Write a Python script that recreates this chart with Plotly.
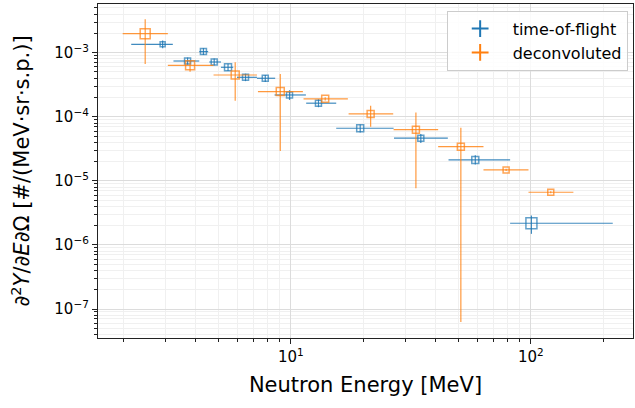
import plotly.graph_objects as go

# time-of-flight
tof_E = [2.92, 3.71, 4.32, 4.79, 5.47, 6.47, 7.82, 9.87, 13.03, 19.45, 34.8, 58.7, 100.6]
tof_Elo = [2.16, 3.24, 4.15, 4.57, 5.11, 5.96, 7.22, 8.55, 11.58, 15.45, 26.9, 45.4, 82.0]
tof_Ehi = [3.22, 4.15, 4.52, 5.11, 5.75, 7.22, 8.60, 11.55, 15.45, 26.8, 45.1, 82.0, 219.6]
tof_Y = [1.35e-3, 7.42e-4, 1.04e-3, 7.16e-4, 5.92e-4, 4.13e-4, 3.99e-4, 2.19e-4, 1.63e-4, 6.62e-5, 4.63e-5, 2.12e-5, 2.18e-6]
tof_Ylo = [1.17e-3, 6.5e-4, 9.2e-4, 6.3e-4, 5.2e-4, 3.6e-4, 3.5e-4, 1.83e-4, 1.41e-4, 5.7e-5, 3.9e-5, 1.8e-5, 1.49e-6]
tof_Yhi = [1.55e-3, 8.4e-4, 1.18e-3, 8.1e-4, 6.7e-4, 4.7e-4, 4.5e-4, 2.6e-4, 1.88e-4, 7.6e-5, 5.4e-5, 2.5e-5, 2.88e-6]
tof_size = [5, 6, 6, 6, 7, 6, 6, 6, 6, 7, 6, 7, 11]

# deconvoluted
dec_E = [2.47, 3.80, 5.86, 9.03, 13.9, 21.5, 33.2, 51.1, 78.9, 121.1]
dec_Elo = [1.99, 3.07, 4.76, 7.29, 11.29, 17.4, 26.8, 41.1, 63.5, 97.8]
dec_Ehi = [3.07, 4.76, 7.22, 11.22, 17.28, 26.7, 41.1, 63.5, 97.8, 150.5]
dec_Y = [1.98e-3, 6.36e-4, 4.49e-4, 2.47e-4, 1.91e-4, 1.11e-4, 6.29e-5, 3.42e-5, 1.48e-5, 6.64e-6]
dec_Ylo = [6.67e-4, 5.06e-4, 1.78e-4, 2.93e-5, 1.80e-4, 7.02e-5, 7.67e-6, 6.3e-8, 1.42e-5, 6.4e-6]
dec_Yhi = [3.32e-3, 7.42e-4, 7.08e-4, 4.66e-4, 2.02e-4, 1.49e-4, 1.17e-4, 6.76e-5, 1.54e-5, 6.9e-6]
dec_size = [10, 9, 8, 8, 7, 7, 7, 7, 6, 6]

BLUE = "#1f77b4"
ORANGE = "#ff7f0e"


def err(v, lo, hi):
    return [h - x for x, h in zip(v, hi)], [x - l for x, l in zip(v, lo)]


fig = go.Figure()


def add_series(E, Elo, Ehi, Y, Ylo, Yhi, size, color, rgba, name):
    ex_p, ex_m = err(E, Elo, Ehi)
    ey_p, ey_m = err(Y, Ylo, Yhi)
    fig.add_trace(go.Scatter(
        x=E, y=Y, mode="markers", showlegend=False,
        marker=dict(symbol="square-open", size=size, color=color,
                    line=dict(width=1.5, color=rgba)),
        error_x=dict(type="data", symmetric=False, array=ex_p, arrayminus=ex_m,
                     width=0, thickness=1.2, color=rgba),
        error_y=dict(type="data", symmetric=False, array=ey_p, arrayminus=ey_m,
                     width=0, thickness=1.2, color=rgba),
    ))
    fig.add_trace(go.Scatter(
        x=[None], y=[None], mode="markers", name=name,
        marker=dict(symbol="cross-thin-open", size=22, color=color,
                    line=dict(width=1.2, color=color)),
    ))


add_series(tof_E, tof_Elo, tof_Ehi, tof_Y, tof_Ylo, tof_Yhi, tof_size,
           BLUE, "rgba(31,119,180,0.85)", "time-of-flight")
add_series(dec_E, dec_Elo, dec_Ehi, dec_Y, dec_Ylo, dec_Yhi, dec_size,
           ORANGE, "rgba(255,127,14,0.8)", "deconvoluted")

font = "DejaVu Sans"
axis_common = dict(
    type="log", showline=True, linecolor="#222", linewidth=1.2, mirror=True,
    ticks="outside", ticklen=5, tickcolor="#222", tickwidth=1,
    showgrid=True, gridcolor="#dcdcdc", gridwidth=1, zeroline=False,
    tickfont=dict(family=font, size=15, color="black"),
    minor=dict(tickmode="linear", dtick="D1", ticks="outside", ticklen=3,
               tickcolor="#222", showgrid=True, gridcolor="#f0f0f0", gridwidth=1),
)

fig.update_layout(
    width=635, height=408,
    margin=dict(l=98, r=2, t=4, b=70),
    paper_bgcolor="white", plot_bgcolor="white",
    font=dict(family=font, color="black"),
    xaxis=dict(axis_common, range=[0.196, 2.426],
               tickvals=[10, 100], ticktext=["10<sup>1</sup>", "10<sup>2</sup>"],
               title=dict(text="Neutron Energy [MeV]", font=dict(size=21), standoff=12)),
    yaxis=dict(axis_common, range=[-7.452, -2.24],
               tickvals=[1e-7, 1e-6, 1e-5, 1e-4, 1e-3],
               ticktext=["10<sup>\u22127</sup>", "10<sup>\u22126</sup>", "10<sup>\u22125</sup>",
                         "10<sup>\u22124</sup>", "10<sup>\u22123</sup>"],
               title=dict(text="\u2202<sup>2</sup><i>Y</i>/\u2202<i>E</i>\u2202\u03a9 [#/(MeV\u00b7sr\u00b7s.p.)]",
                          font=dict(size=21), standoff=18)),
    legend=dict(x=0.99, y=0.98, xanchor="right", yanchor="top",
                bgcolor="rgba(255,255,255,0.85)", bordercolor="#cccccc", borderwidth=1,
                font=dict(family=font, size=16), itemsizing="constant",
                itemwidth=55, tracegroupgap=0),
)

fig.write_html("out.html")
